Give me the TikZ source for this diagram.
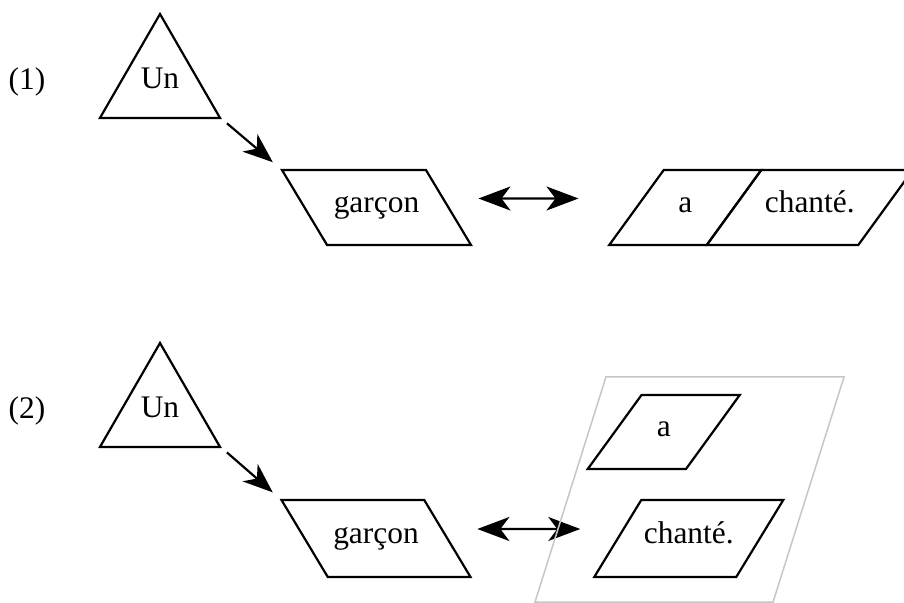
\documentclass[tikz,border=0pt]{standalone}
\usepackage{fontspec}
\setmainfont{Liberation Serif}
\usetikzlibrary{shapes.geometric}
\usetikzlibrary{arrows.meta}
\usetikzlibrary{positioning}

\begin{document}
\begin{tikzpicture}[x=0.5pt,y=-0.5pt,
every node/.style={font=\fontsize{15.7}{19}\selectfont},
tri/.style={draw,line width=1.1pt,regular polygon,regular polygon sides=3,
  minimum size=69.3pt,inner sep=0pt,text depth=5pt},
para/.style={draw,line width=1.1pt,trapezium,trapezium stretches body,outer sep=0pt,
  text height=9pt,text depth=4pt,inner xsep=1pt,inner ysep=12.25pt},
back/.style={para,trapezium left angle=121,trapezium right angle=59},
fwd/.style={para,trapezium left angle=54,trapezium right angle=126},
arr/.style={-{Stealth[length=15pt,width=11.5pt,inset=4.5pt]},line width=1.1pt},
dbl/.style={{Stealth[length=16pt,width=12pt,inset=4.5pt]}-{Stealth[length=16pt,width=12pt,inset=4.5pt]},line width=1.1pt}]
\useasboundingbox (0,0) rectangle (904,603);

\node (l1) at (27,82) {(1)};
\node[tri] (un1) at (160,83.3) {Un};
\node[back,minimum width=94.5pt] (g1) at (376.5,207.5) {garçon};
\node[fwd,minimum width=76pt] (a1) at (685.25,207.5) {a};
\node[fwd,minimum width=103pt,anchor=bottom left corner] (ch1) at (a1.bottom right corner) {chanté.};
\draw[arr,shorten <=3.3pt,shorten >=6pt] (un1.corner 3) -- (g1.top left corner);
\draw[dbl,shorten <=15pt,shorten >=29pt] ([yshift=4.5pt]g1.east) -- ([yshift=4.5pt]a1.west);

\node (l2) at (27,411) {(2)};
\node[tri] (un2) at (160,412.3) {Un};
\node[back,minimum width=94.5pt,inner ysep=12.75pt] (g2) at (376,538.5) {garçon};
\node[fwd,minimum width=76pt,inner ysep=12pt] (a2) at (663.75,432) {a};
\node[para,trapezium left angle=58.6,trapezium right angle=121.4,minimum width=94.5pt,
  inner ysep=12.75pt] (ch2) at (688.75,538.5) {chanté.};
\draw[arr,shorten <=3.3pt,shorten >=5.8pt] (un2.corner 3) -- (g2.top left corner);
\draw[dbl,shorten <=15pt,shorten >=18.75pt] ([yshift=4.75pt]g2.east) -- ([yshift=4.75pt]ch2.west);
\node[para,draw=gray!45,line width=0.75pt,trapezium left angle=72.5,trapezium right angle=107.5,
  minimum width=154.5pt,inner ysep=49.75pt] (grp2) at (689.5,489.5) {};
\end{tikzpicture}
\end{document}
